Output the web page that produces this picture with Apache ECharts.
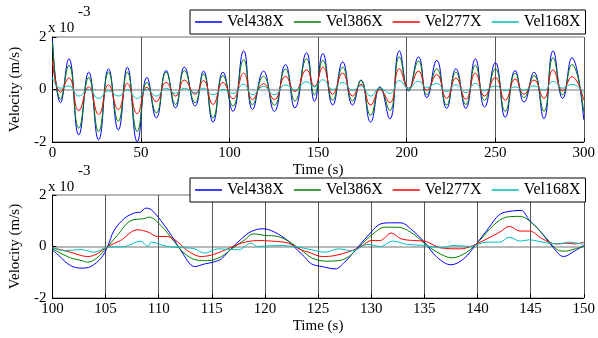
<!DOCTYPE html>
<html><head><meta charset="utf-8">
<script src="https://cdn.jsdelivr.net/npm/echarts@6/dist/echarts.min.js"></script>
<style>html,body{margin:0;padding:0;background:#fff}#c{width:598px;height:338px}</style>
</head><body><div id="c"></div>
<script>
// values in units of 1e-3 m/s
const seriesNames = ['Vel438X', 'Vel386X', 'Vel277X', 'Vel168X'];
const xTicksTop = [0, 50, 100, 150, 200, 250, 300];
const xTicksBottom = [100, 105, 110, 115, 120, 125, 130, 135, 140, 145, 150];
const yTicks = [-2, 0, 2];

// top panel: times of the extrema (s)
const topTime = [0, 4.6, 9.3, 14.9, 20.5, 26.1, 31.7, 37.2, 42.3, 47.9, 53.4, 58.7, 64.2, 69.5, 74.5, 80.6, 85.3, 90.7, 96.3, 101.9, 108, 113, 119.2, 125.3, 131.6, 136.9, 143.5, 148, 152.7, 158.3, 163.9, 169.5, 174.2, 179.7, 184.9, 190.5, 195.9, 201.1, 206.7, 211.4, 217, 222.6, 227.8, 233.4, 238.8, 244, 250.1, 255.7, 261.3, 266.3, 271.9, 277.5, 282.7, 288.1, 293.3, 300];
const topVel438 = [1.95, -0.5, 1.17, -1.73, 0.66, -1.92, 0.79, -1.54, 0.85, -1.99, 0.46, -1.08, 0.72, -0.70, 0.85, -0.63, 0.70, -1.24, 0.66, -0.83, 1.47, -0.76, 0.70, -0.83, 0.95, -0.70, 1.40, -0.45, 1.37, -0.59, 1.05, -0.59, 0.36, -1.24, 0.10, -1.12, 1.47, -0.05, 1.24, -0.31, 1.11, -0.72, 0.79, -0.72, 1.17, -0.67, 1.02, -1.06, 0.72, -0.48, 0.66, -1.11, 1.47, -0.34, 1.21, -1.15];
const topVel386 = [1.82, -0.37, 0.92, -1.47, 0.46, -1.6, 0.66, -1.21, 0.66, -1.6, 0.27, -0.89, 0.66, -0.57, 0.72, -0.5, 0.59, -1.08, 0.53, -0.63, 1.13, -0.58, 0.5, -0.6, 0.78, -0.44, 1.17, -0.2, 1.11, -0.41, 0.85, -0.44, 0.34, -0.98, 0.08, -0.8, 1.24, -0.03, 1.08, -0.2, 0.79, -0.59, 0.66, -0.57, 0.92, -0.41, 0.79, -0.83, 0.62, -0.31, 0.53, -0.83, 1.21, -0.2, 0.95, -0.85];
const topVel277 = [1.1, -0.1, 0.44, -0.8, 0.1, -0.95, 0.18, -0.76, 0.23, -0.92, 0.08, -0.46, 0.27, -0.25, 0.36, -0.18, 0.34, -0.57, 0.27, -0.35, 0.62, -0.38, 0.22, -0.38, 0.5, -0.08, 0.75, 0.12, 0.85, -0.18, 0.62, -0.25, 0.2, -0.59, 0, -0.5, 0.79, 0.05, 0.7, -0.03, 0.57, -0.34, 0.44, -0.37, 0.62, -0.25, 0.46, -0.41, 0.4, -0.18, 0.36, -0.34, 0.75, -0.05, 0.49, -0.41];
const topVel168 = [0.46, 0.05, 0.14, -0.25, 0, -0.34, -0.05, -0.25, -0.02, -0.34, 0, -0.25, 0.05, -0.15, 0.05, -0.12, 0.05, -0.2, 0, -0.15, 0.2, -0.2, 0.12, -0.2, 0.18, -0.02, 0.3, 0.1, 0.37, 0, 0.27, -0.03, 0.14, -0.25, 0.05, -0.15, 0.34, 0.05, 0.31, 0.08, 0.23, -0.08, 0.18, -0.12, 0.23, -0.05, 0.14, -0.05, 0.1, -0.03, 0.14, -0.03, 0.31, 0.05, 0.2, -0.12];

// bottom panel (100-150 s)
const botTime438 = [100, 100.6, 101.7, 102.7, 103.6, 104.6, 105.2, 105.8, 106.8, 107.7, 108.3, 108.8, 109.3, 110.2, 111.2, 112.1, 113.4, 114.3, 115.1, 115.9, 116.8, 117.8, 118.7, 119.8, 120.9, 122.2, 123.1, 123.7, 124.4, 125.4, 126.6, 127.5, 128.8, 130, 130.9, 131.9, 132.8, 133.7, 135, 136.2, 137.5, 138.7, 139.9, 141, 142.1, 143.3, 144.1, 144.9, 145.8, 147.1, 148.1, 149.2, 150];
const botVel438 = [-0.13, -0.35, -0.74, -0.84, -0.78, -0.44, 0, 0.62, 1.10, 1.30, 1.34, 1.49, 1.43, 1.01, 0.43, -0.16, -0.78, -0.68, -0.61, -0.48, -0.09, 0.30, 0.58, 0.69, 0.56, 0.21, -0.16, -0.39, -0.68, -0.78, -0.87, -0.61, 0, 0.56, 0.88, 0.92, 0.92, 0.69, 0.17, -0.42, -0.71, -0.48, 0.1, 0.69, 1.25, 1.38, 1.40, 1.01, 0.65, -0.03, -0.39, -0.16, 0.04];
const botTime386 = [100, 101.7, 102.8, 103.3, 104.2, 105.2, 106.1, 107.4, 108.6, 109.1, 110.2, 111.5, 112.4, 113.5, 114.6, 115.9, 117, 118.1, 118.9, 120, 121.2, 122.2, 123.4, 124.4, 125.7, 126.9, 127.9, 128.9, 130, 131.3, 132.5, 133.7, 135, 136.2, 137.6, 139, 140.2, 141.5, 142.7, 144, 145.2, 146.4, 147.7, 148.3, 149.2, 150];
const botVel386 = [-0.09, -0.44, -0.55, -0.61, -0.44, 0, 0.43, 1.01, 1.08, 1.14, 0.82, 0.17, -0.26, -0.52, -0.55, -0.39, -0.05, 0.26, 0.49, 0.43, 0.39, 0.21, -0.13, -0.44, -0.57, -0.55, -0.39, 0, 0.43, 0.75, 0.75, 0.56, 0.13, -0.22, -0.44, -0.22, 0.23, 0.82, 1.14, 1.17, 0.88, 0.36, -0.16, -0.18, -0.09, 0];
const botTime277 = [100, 101.7, 103.3, 104.2, 105.2, 106.4, 108, 109, 109.9, 110.8, 111.8, 112.7, 114, 115.3, 116.5, 117.8, 119.3, 120.6, 122.2, 123.4, 124.1, 125.4, 126.6, 128.2, 129.2, 130, 130.8, 131.9, 132.8, 134, 135, 136.5, 138.4, 139.6, 140.9, 142.1, 143, 144, 144.9, 146.1, 147.4, 148.3, 149.2, 150];
const botVel277 = [-0.05, -0.22, -0.39, -0.29, 0, 0.23, 0.65, 0.56, 0.39, 0.39, 0.17, -0.16, -0.39, -0.29, -0.09, 0.13, 0.23, 0.21, 0.13, -0.13, -0.22, -0.39, -0.35, -0.16, 0.04, 0.23, 0.23, 0.52, 0.3, 0.23, 0.21, -0.05, -0.09, 0.04, 0.3, 0.56, 0.78, 0.6, 0.6, 0.3, 0.1, 0.13, 0.1, 0.17];
const botTime168 = [100, 101.1, 102.7, 103.9, 105.2, 106.8, 108.3, 109, 109.3, 110.8, 112.4, 113.4, 114.3, 115.6, 117.5, 118.7, 119.3, 121.2, 122.8, 124.4, 125.7, 126.9, 128.2, 129.7, 130.9, 132, 133.4, 135, 136.5, 137.8, 139.3, 140.9, 142.1, 143, 144, 144.9, 146.1, 147.7, 148.6, 150];
const botVel168 = [-0.05, -0.16, -0.12, -0.22, -0.03, 0, 0.21, 0, 0.17, 0, -0.05, -0.09, -0.26, -0.09, -0.13, 0.13, 0, 0.04, 0, -0.13, -0.22, -0.09, -0.16, 0.08, 0, 0.21, 0.08, 0.04, -0.05, 0.04, 0, 0.17, 0.17, 0.36, 0.21, 0.26, 0.17, 0.1, 0.17, 0.08];

const colors = ['#0000FF', '#008000', '#FF0000', '#00BFBF'];
const FONT = 'Liberation Serif';
const zip = (t, v) => t.map((x, i) => [x, v[i]]);

const topData = [topVel438, topVel386, topVel277, topVel168].map(v => zip(topTime, v));
const botData = [zip(botTime438, botVel438), zip(botTime386, botVel386), zip(botTime277, botVel277), zip(botTime168, botVel168)];

function xAxis(gi, ticks) {
  return {
    type: 'value', gridIndex: gi, min: ticks[0], max: ticks[ticks.length - 1],
    interval: ticks[1] - ticks[0],
    name: 'Time (s)', nameLocation: 'middle', nameGap: 21,
    nameTextStyle: { fontFamily: FONT, fontSize: 15, color: '#000' },
    axisLine: { onZero: false, lineStyle: { color: '#000', width: 1 } },
    axisTick: { inside: true, length: 4, lineStyle: { color: '#000' } },
    axisLabel: { fontFamily: FONT, fontSize: 15, color: '#000', margin: 4 },
    splitLine: { show: true, lineStyle: { color: '#555', width: 1 } }
  };
}
function yAxis(gi) {
  return {
    type: 'value', gridIndex: gi, min: -2, max: 2, interval: 2,
    name: 'Velocity (m/s)', nameLocation: 'middle', nameGap: 28,
    nameTextStyle: { fontFamily: FONT, fontSize: 15, color: '#000' },
    axisLine: { show: true, lineStyle: { color: '#000', width: 1 } },
    axisTick: { inside: true, length: 4, lineStyle: { color: '#000' } },
    axisLabel: { fontFamily: FONT, fontSize: 15, color: '#000', margin: 6 },
    splitLine: { show: true, lineStyle: { color: '#A0A0A0', width: 1.5 } }
  };
}
function legend(top) {
  return {
    data: seriesNames, left: 190, top: top, orient: 'horizontal',
    icon: 'rect', itemWidth: 27, itemHeight: 1.5, itemGap: 10,
    padding: [4, 5], borderColor: '#000', borderWidth: 1, backgroundColor: '#fff',
    textStyle: { fontFamily: FONT, fontSize: 16, color: '#000', lineHeight: 14 }
  };
}
const series = [];
seriesNames.forEach((n, i) => series.push({
  name: n, type: 'line', xAxisIndex: 0, yAxisIndex: 0, data: topData[i],
  symbol: 'none', smooth: 0.5, lineStyle: { width: 1, color: colors[i] }, itemStyle: { color: colors[i] }
}));
seriesNames.forEach((n, i) => series.push({
  name: n, type: 'line', xAxisIndex: 1, yAxisIndex: 1, data: botData[i],
  symbol: 'none', smooth: 0.35, lineStyle: { width: 1, color: colors[i] }, itemStyle: { color: colors[i] }
}));

const chart = echarts.init(document.getElementById('c'), null, { renderer: 'canvas' });
chart.setOption({
  animation: false,
  backgroundColor: '#fff',
  color: colors,
  grid: [
    { left: 48, right: 13, top: 37, height: 105 },
    { left: 48, right: 13, top: 195, height: 103 }
  ],
  xAxis: [xAxis(0, xTicksTop), xAxis(1, xTicksBottom)],
  yAxis: [yAxis(0), yAxis(1)],
  legend: [legend(10), legend(178)],
  series: series,
  graphic: [
    { type: 'text', left: 48, top: 21, style: { text: 'x 10', font: '15px "Liberation Serif"', fill: '#000' } },
    { type: 'text', left: 78, top: 5, style: { text: '-3', font: '15px "Liberation Serif"', fill: '#000' } },
    { type: 'text', left: 48, top: 180, style: { text: 'x 10', font: '15px "Liberation Serif"', fill: '#000' } },
    { type: 'text', left: 78, top: 164, style: { text: '-3', font: '15px "Liberation Serif"', fill: '#000' } }
  ]
});
</script></body></html>
